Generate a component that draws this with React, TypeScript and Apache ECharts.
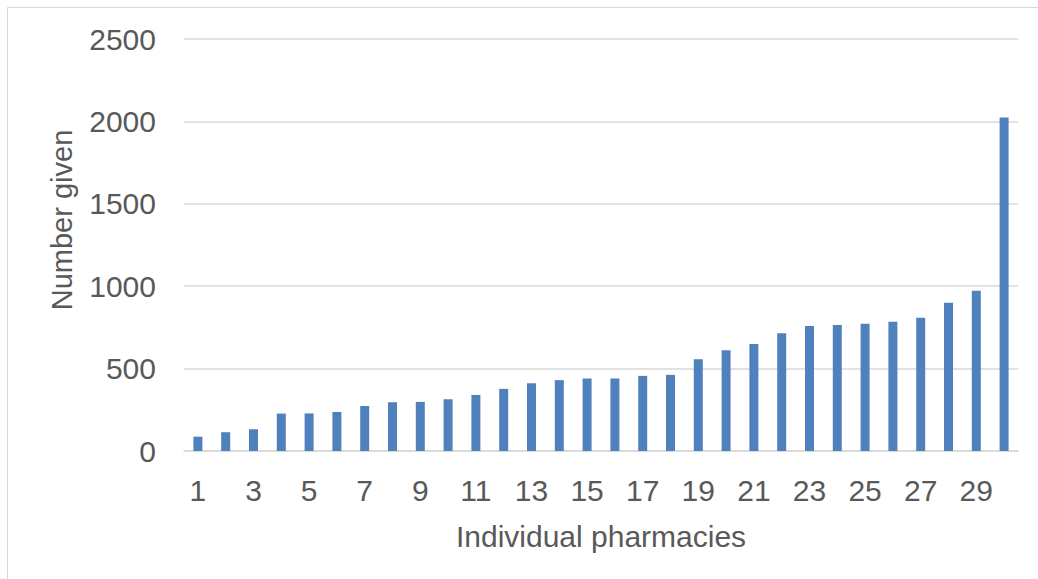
import React, { useEffect, useRef } from "react";
import * as echarts from "echarts";

const categories: string[] = Array.from({ length: 30 }, (_, i) => String(i + 1));
const numberGiven: number[] = [
  87, 114, 132, 227, 228, 237, 273, 296, 298, 314,
  340, 377, 411, 430, 440, 440, 456, 462, 557, 612,
  650, 715, 758, 764, 772, 784, 808, 899, 972, 2023,
];
const yTicks = { min: 0, max: 2500, interval: 500 };
const yTitle = "Number given";
const xTitle = "Individual pharmacies";

export default function App() {
  const ref = useRef<HTMLDivElement>(null);
  useEffect(() => {
    document.body.style.margin = "0";
    const chart = echarts.init(ref.current!, null, { renderer: "svg" });
    const font = "Arial, 'Liberation Sans', sans-serif";
    chart.setOption({
      animation: false,
      backgroundColor: "#ffffff",
      textStyle: { fontFamily: font },
      grid: { left: 184, right: 20, top: 39, bottom: 128, containLabel: false },
      graphic: [
        {
          type: "rect",
          shape: { x: 7.5, y: 7.5, width: 1200, height: 800 },
          style: { fill: "none", stroke: "#d9d9d9", lineWidth: 1 },
          silent: true,
        },
        {
          type: "text",
          x: 62,
          y: 220,
          rotation: Math.PI / 2,
          style: {
            text: yTitle,
            fill: "#595959",
            font: `29px ${font}`,
            align: "center",
            verticalAlign: "middle",
          },
        },
      ],
      xAxis: {
        type: "category",
        data: categories,
        name: xTitle,
        nameLocation: "middle",
        nameGap: 70,
        nameTextStyle: { color: "#595959", fontSize: 30, fontFamily: font },
        axisLine: { show: true, lineStyle: { color: "#d9d9d9", width: 1.5 } },
        axisTick: { show: false },
        axisLabel: { interval: 1, color: "#595959", fontSize: 30, margin: 24, fontFamily: font },
      },
      yAxis: {
        type: "value",
        min: yTicks.min,
        max: yTicks.max,
        interval: yTicks.interval,
        axisLine: { show: false },
        axisTick: { show: false },
        splitLine: { lineStyle: { color: "#d9d9d9", width: 1.5 } },
        axisLabel: {
          color: "#595959",
          fontSize: 30,
          margin: 28,
          fontFamily: font,
          formatter: (v: number) => String(v),
        },
      },
      series: [
        {
          type: "bar",
          data: numberGiven,
          barWidth: 9,
          itemStyle: { color: "#4f81bd" },
        },
      ],
    });
    return () => chart.dispose();
  }, []);
  return <div ref={ref} style={{ width: 1038, height: 579, position: "absolute", left: 0, top: 0 }} />;
}
